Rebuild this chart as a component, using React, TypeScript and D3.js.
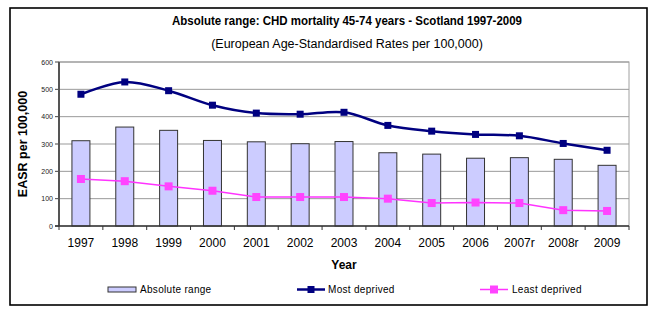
import React from 'react'
import * as d3 from 'd3'

const years = ['1997', '1998', '1999', '2000', '2001', '2002', '2003', '2004', '2005', '2006', '2007r', '2008r', '2009']
const mostDeprived = [482, 527, 495, 442, 413, 409, 416, 368, 347, 335, 330, 302, 277]
const leastDeprived = [172, 164, 145, 129, 106, 106, 106, 100, 84, 86, 84, 58, 55]
const absoluteRange = [312, 362, 350, 313, 308, 301, 309, 268, 263, 248, 250, 244, 222]
const yTicks = [0, 100, 200, 300, 400, 500, 600]

const App = () => {
  const W = 656
  const H = 312
  const plot = { left: 59, right: 629, top: 62, bottom: 226 }

  //D3 mathy bits
  const x = d3.scaleBand().domain(years).range([plot.left, plot.right]).padding(0)
  const y = d3.scaleLinear().domain([0, 600]).range([plot.bottom, plot.top])
  const cx = (d) => x(d) + x.bandwidth() / 2
  const barW = x.bandwidth() * 0.41

  const navyLine = d3
    .line<number>()
    .x((d, i) => cx(years[i]))
    .y((d) => y(d))
    .curve(d3.curveCatmullRom.alpha(0.5))
  const pinkLine = d3
    .line<number>()
    .x((d, i) => cx(years[i]))
    .y((d) => y(d))

  const font = 'Liberation Sans, Arial, sans-serif'
  const navy = '#000080'
  const pink = '#ff33ff'

  return (
    <svg
      width={W}
      height={H}
      style={{ position: 'absolute', left: 0, top: 0, background: '#fff' }}
      fontFamily={font}
    >
      <rect x={10} y={8} width={637} height={297} fill="#fff" stroke="#000" strokeWidth={1.6} />

      <text
        x={347}
        y={25}
        textAnchor="middle"
        fontSize={13}
        fontWeight="bold"
        textLength={350}
        lengthAdjust="spacingAndGlyphs"
      >
        Absolute range: CHD mortality 45-74 years - Scotland 1997-2009
      </text>
      <text x={347} y={48} textAnchor="middle" fontSize={12.5}>
        (European Age-Standardised Rates per 100,000)
      </text>

      {/* plot area */}
      <rect
        x={plot.left}
        y={plot.top}
        width={plot.right - plot.left}
        height={plot.bottom - plot.top}
        fill="#fff"
        stroke="#a0a0a0"
        strokeWidth={1}
      />
      {yTicks.map((t) => (
        <g key={t}>
          {t > 0 && <line x1={plot.left} x2={plot.right} y1={y(t)} y2={y(t)} stroke="#999" strokeWidth={1} />}
          <line x1={plot.left - 4} x2={plot.left} y1={y(t)} y2={y(t)} stroke="#444" strokeWidth={1} />
          <text x={plot.left - 6} y={y(t) + 2.5} textAnchor="end" fontSize={7} fill="#222">
            {t}
          </text>
        </g>
      ))}

      {/* bars */}
      {absoluteRange.map((v, i) => (
        <rect
          key={years[i]}
          x={cx(years[i]) - barW / 2}
          y={y(v)}
          width={barW}
          height={y(0) - y(v)}
          fill="#ccccff"
          stroke="#333"
          strokeWidth={1}
        />
      ))}

      {/* axes */}
      <line x1={plot.left} x2={plot.left} y1={plot.top} y2={plot.bottom} stroke="#555" strokeWidth={2} />
      <line x1={plot.left - 4} x2={plot.right} y1={plot.bottom} y2={plot.bottom} stroke="#333" strokeWidth={1.5} />
      {years.map((yr) => (
        <line key={yr} x1={x(yr) + x.bandwidth()} x2={x(yr) + x.bandwidth()} y1={plot.bottom} y2={plot.bottom + 4} stroke="#333" strokeWidth={1} />
      ))}
      <line x1={plot.left} x2={plot.left} y1={plot.bottom} y2={plot.bottom + 4} stroke="#333" strokeWidth={1} />
      {years.map((yr) => (
        <text key={yr} x={cx(yr)} y={247} textAnchor="middle" fontSize={12}>
          {yr}
        </text>
      ))}

      {/* series */}
      <path d={pinkLine(leastDeprived)} fill="none" stroke={pink} strokeWidth={1.5} />
      {leastDeprived.map((v, i) => (
        <rect key={years[i]} x={cx(years[i]) - 4} y={y(v) - 4} width={8} height={8} fill="#ff44ff" />
      ))}
      <path d={navyLine(mostDeprived)} fill="none" stroke={navy} strokeWidth={2.5} />
      {mostDeprived.map((v, i) => (
        <rect key={years[i]} x={cx(years[i]) - 3.5} y={y(v) - 3.5} width={7} height={7} fill={navy} />
      ))}

      {/* axis titles */}
      <text x={344} y={269} textAnchor="middle" fontSize={12} fontWeight="bold">
        Year
      </text>
      <text
        transform={`translate(${27},${144}) rotate(-90)`}
        textAnchor="middle"
        fontSize={12.5}
        fontWeight="bold"
      >
        EASR per 100,000
      </text>

      {/* legend */}
      <g fontSize={10} letterSpacing={0.3}>
        <rect x={108} y={287} width={28} height={5} fill="#ccccff" stroke="#333" strokeWidth={1} />
        <text x={140} y={293}>Absolute range</text>
        <line x1={297} x2={325} y1={289.5} y2={289.5} stroke={navy} strokeWidth={2.5} />
        <rect x={307.5} y={286} width={7} height={7} fill={navy} />
        <text x={328} y={293}>Most deprived</text>
        <line x1={480} x2={508} y1={289.5} y2={289.5} stroke={pink} strokeWidth={1.5} />
        <rect x={490} y={285.5} width={8} height={8} fill="#ff44ff" />
        <text x={512} y={293}>Least deprived</text>
      </g>
    </svg>
  )
}

export default App
